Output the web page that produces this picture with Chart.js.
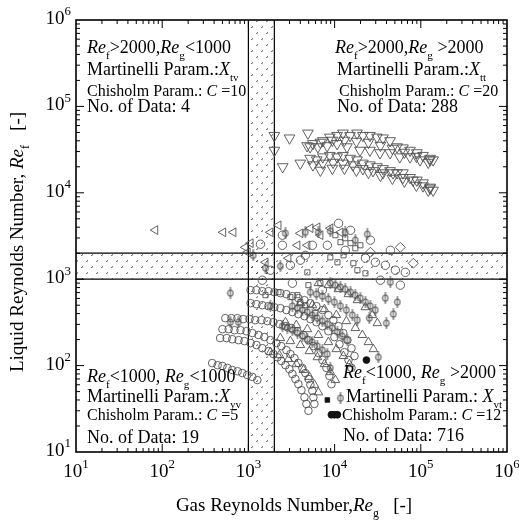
<!DOCTYPE html>
<html>
<head>
<meta charset="utf-8">
<script src="https://cdn.jsdelivr.net/npm/chart.js@4.4.0/dist/chart.umd.min.js"></script>
<style>
  body { margin: 0; background: #fff; }
  #wrap { width: 519px; height: 524px; position: relative; }
</style>
</head>
<body>
<div id="wrap"><canvas id="chart"></canvas></div>
<script>
// Re_g, Re_f pairs

// open circles, arcs in the lower region
const circleArc1 = [[380,107],[440,101],[500,99],[570,94],[650,89],[750,86],[850,82],[970,78],[1110,74],[1270,68]];
const circleArc2 = [[470,208],[560,208],[650,202],[770,197],[900,192],[1060,182],[1240,173],[1450,159],[1710,147],[1950,136],[2170,125],[2410,113],[2690,101],[2990,91],[3240,80],[3510,70],[3800,61],[4120,52],[4470,43],[4710,36],[4970,30]];
const circleArc3 = [[500,264],[590,264],[690,257],[810,257],[950,250],[1110,238],[1310,226],[1530,214],[1800,197],[2110,182],[2410,168],[2760,151],[3070,136],[3420,122],[3800,107],[4230,94],[4580,82],[4970,70],[5240,60],[5520,51],[5670,43],[5830,36]];
const circleArc4 = [[540,354],[635,354],[745,354],[870,345],[1030,345],[1200,336],[1420,336],[1660,327],[1950,318],[2290,302],[2690,286],[3160,272],[3700,250],[4350,226],[4970,197],[5670,168],[6490,140],[7220,116],[8040,94],[8700,76],[9180,61]];
const circleArc5 = [[1060,747],[1240,747],[1450,727],[1710,727],[2000,707],[2350,689],[2760,671],[3240,636],[3800,603],[4470,572],[5240,528],[6150,488],[7220,439],[8470,384],[9680,336],[11100,286],[12600,238],[14100,197],[15700,159],[17000,129]];
const circleArc6 = [[1060,528],[1240,514],[1450,500],[1710,488],[2000,474],[2350,462],[2760,439],[3240,416],[3800,394],[4470,373],[5240,345],[6150,318],[7220,286],[8470,250],[9950,214],[11400,177],[13000,143],[14500,116],[15700,94]];
const circleBand = [[1380,2540],[2480,2470],[4010,1660],[5520,2470],[8240,2470],[11100,4430],[2480,3230],[1800,1270],[3070,1450],[4580,1890],[13300,2160],[22800,1750],[29700,1570],[38800,1450],[50700,1270],[66200,1200],[3240,899],[7220,747],[1450,973],[15300,3680],[26000,2830],[44400,2160],[34000,973],[57900,853]];

// open down-triangles, upper right
const downUpper1 = [[2000,46000],[3000,43000],[4900,49000],[4800,35000],[5600,37000],[7300,40000],[8800,44000],[10700,46000],[12500,49000],[15100,46000],[18200,49000],[21300,46000],[25700,46000],[31000,44000],[36400,43000],[44000,40000],[53000,34000],[62000,33000],[75000,31000],[90000,29000],[106000,27000],[128000,25000],[139000,24000]];
const downUpper2 = [[5200,34000],[6400,34000],[8200,35000],[10700,37000],[13900,34000],[19700,31000],[25700,31000],[33600,29000],[44000,29000],[57000,26000],[75000,26000],[98000,24000],[128000,24000]];
const downUpper3 = [[6840,38400],[9420,40500],[13000,40500],[17900,39400],[24700,38400],[34000,35400],[46800,32700],[64500,29400],[88900,26400],[122000,22500]];
const downLower1 = [[2000,31000],[2500,20000],[4000,22000],[5200,25000],[6200,24000],[7300,26000],[8800,27000],[10700,26000],[12500,27000],[15100,25000],[18200,24000],[21300,22000],[25700,21000],[31000,20000],[36400,19000],[44000,18000],[53000,17000],[62000,17000],[75000,15000],[90000,14000],[106000,13000],[128000,11600],[139000,10700]];
const downLower2 = [[5600,21000],[7300,22000],[9600,22500],[12500,22000],[16300,21000],[21300,19000],[27900,18000],[36400,17000],[47600,17000],[62000,15000],[81000,14000],[106000,12000],[128000,11300]];
const downLower3 = [[6840,18200],[9420,19200],[13000,19200],[17900,18200],[24700,17200],[34000,15900],[46800,14700],[64500,13600],[88900,12200],[122000,10700]];

// open left-triangles
const leftTri = [[83,3700],[510,3490],[670,3490],[920,2340],[980,2050],[1060,2610],[1800,3490],[2230,4210],[4010,3400],[5240,3890],[6310,3990],[6840,3230],[3700,2470],[4830,2470],[8930,3890],[11700,3490],[1580,1570],[2910,1750]];

// open up-triangles
const upArc1 = [[6490,899],[8470,853],[11070,766],[14450,671],[18370,572],[22760,474],[27430,384],[31340,310]];
const upArc2 = [[4010,528],[5520,500],[7620,450],[10490,384],[13700,327],[17420,272],[21000,226],[24660,187],[28180,155]];
const upArc3 = [[2690,318],[3600,294],[4830,264],[6490,226],[8470,187],[10490,155],[12650,129],[14850,104]];
const upArc4 = [[2350,208],[3070,192],[4010,173],[5100,147],[6310,125],[7620,104],[8930,84],[10220,68]];
const upArc5 = [[1800,143],[2290,132],[2910,119],[3600,104],[4345,89],[5100,74],[5830,60],[6490,49]];

// open squares
const squares = [[10200,3230],[13300,2980],[11700,2680],[15300,2610],[17400,2280],[19900,2470],[12700,1890],[16500,1530],[18400,1270],[22800,1170],[8930,1790],[10800,1570],[4830,1200],[4970,853],[6840,899],[2230,707],[3070,620],[4010,542],[4580,500],[5980,405],[3700,653],[1580,653]];

// circle with vertical bar
const phiArc1 = [[3240,488],[3700,462],[4230,439],[4830,416],[5520,384],[6310,354],[7220,327],[8240,302],[9420,272],[10770,244],[12300,219],[14070,197]];
const phiArc2 = [[2480,286],[2830,272],[3240,257],[3700,238],[4230,219],[4830,202],[5520,187],[6310,168],[7220,151],[8240,136]];
const phiArc3 = [[5240,707],[6150,671],[7220,636],[8470,588],[9950,542],[11670,488],[13700,439],[16080,384],[18370,336]];
const phiArc4 = [[8930,899],[10200,853],[11700,809],[13300,766],[15300,707],[17400,653],[19900,603],[22800,542],[26000,488],[29700,439]];
const phiLoose = [[38800,603],[53500,542],[48100,394],[39900,310],[32200,125],[44400,923],[8930,94],[11700,42],[618,689],[618,318],[766,318],[1800,488],[2690,3400],[4580,3490],[6490,3490],[8930,3590],[13300,3490],[17400,2830],[24000,3310],[1140,1890],[1580,1340],[2350,1410],[25300,354]];

// open diamonds
const diamonds = [[57900,2340],[82000,1530],[26000,2050]];

// filled marks
const filledSquare = [[8240,40]];
const filledRound = [[23400,116],[9180,27],[9950,27],[10770,27]];

const decades = [1, 2, 3, 4, 5, 6];

const SERIF = '"Liberation Serif", "Times New Roman", serif';
const INK = '#505050';

function pts(arr) {
    return arr.map(p => ({ x: p[0], y: p[1] }));
}

// circle crossed by a vertical bar
function makePhi() {
    const c = document.createElement('canvas');
    c.width = 8; c.height = 12;
    const g = c.getContext('2d');
    g.strokeStyle = '#333'; g.lineWidth = 0.9;
    g.beginPath(); g.ellipse(4, 6, 2.8, 3.2, 0, 0, Math.PI * 2); g.stroke();
    g.beginPath(); g.moveTo(4, 0); g.lineTo(4, 12); g.stroke();
    return c;
}

function makeDots() {
    const c = document.createElement('canvas');
    c.width = 10; c.height = 12;
    const g = c.getContext('2d');
    g.strokeStyle = '#222'; g.lineWidth = 0.9;
    g.beginPath();
    g.moveTo(1.5, 4); g.lineTo(2.6, 2.4);
    g.moveTo(6.5, 10); g.lineTo(7.6, 8.4);
    g.stroke();
    return c;
}

function set(data, style, radius, extra) {
    return Object.assign({
        data: pts(data),
        pointStyle: style,
        pointRadius: radius,
        borderColor: INK,
        backgroundColor: 'rgba(0,0,0,0)',
        pointBorderWidth: 0.9,
        showLine: false
    }, extra || {});
}

// draws text pieces: [text, kind] with kind '', 'i', 'sub', 'sup'
function rich(ctx, x, y, parts, size, draw) {
    let cx = x;
    parts.forEach(p => {
        const t = p[0], k = p[1] || '';
        let s = size, dy = 0, st = '';
        if (k === 'sub') { s = size * 0.62; dy = size * 0.32; }
        if (k === 'sup') { s = size * 0.68; dy = -size * 0.45; }
        if (k === 'i') st = 'italic ';
        ctx.font = st + s + 'px ' + SERIF;
        if (draw !== false) ctx.fillText(t, cx, y + dy);
        cx += ctx.measureText(t).width;
    });
    return cx - x;
}

const notes = [
    // top left
    [87, 53, 18, [['Re','i'],['f','sub'],['>2000,'],['Re','i'],['g','sub'],['<1000']]],
    [87, 75, 18, [['Martinelli Param.:'],['X','i'],['tv','sub']]],
    [87, 96, 16, [['Chisholm Param.: '],['C','i'],[' =10']]],
    [87, 112, 18, [['No. of Data: 4']]],
    // top right
    [335, 53, 18, [['Re','i'],['f','sub'],['>2000,'],['Re','i'],['g','sub'],[' >2000']]],
    [337, 75, 18, [['Martinelli Param.:'],['X','i'],['tt','sub']]],
    [339, 96, 16, [['Chisholm Param.: '],['C','i'],[' =20']]],
    [337, 112, 18, [['No. of Data: 288']]],
    // bottom left
    [87, 382, 18, [['Re','i'],['f','sub'],['<1000, '],['Re','i'],['g','sub'],['<1000']]],
    [87, 402, 18, [['Martinelli Param.:'],['X','i'],['yv','sub']]],
    [87, 420, 16, [['Chisholm Param.: '],['C','i'],[' =5']]],
    [87, 443, 18, [['No. of Data: 19']]],
    // bottom right
    [343, 378, 18, [['Re','i'],['f','sub'],['<1000, '],['Re','i'],['g','sub'],[' >2000']]],
    [346, 402, 18, [['Martinelli Param.: '],['X','i'],['vt','sub']]],
    [342, 420, 16, [['Chisholm Param.: '],['C','i'],[' =12']]],
    [343, 441, 18, [['No. of Data: 716']]]
];

const decor = {
    id: 'decor',
    beforeDatasetsDraw(chart) {
        const ctx = chart.ctx, a = chart.chartArea;
        const xs = chart.scales.x, ys = chart.scales.y;
        const x1 = xs.getPixelForValue(1000), x2 = xs.getPixelForValue(2000);
        const y1 = ys.getPixelForValue(2000), y2 = ys.getPixelForValue(1000);
        ctx.save();
        ctx.fillStyle = ctx.createPattern(makeDots(), 'repeat');
        ctx.fillRect(x1, a.top, x2 - x1, a.bottom - a.top);
        ctx.fillRect(a.left, y1, a.right - a.left, y2 - y1);
        ctx.strokeStyle = '#000'; ctx.lineWidth = 1.2;
        ctx.beginPath();
        [x1, x2].forEach(x => { ctx.moveTo(x, a.top); ctx.lineTo(x, a.bottom); });
        [y1, y2].forEach(y => { ctx.moveTo(a.left, y); ctx.lineTo(a.right, y); });
        ctx.stroke();
        ctx.restore();
    },
    afterDatasetsDraw(chart) {
        const ctx = chart.ctx, a = chart.chartArea;
        const xs = chart.scales.x, ys = chart.scales.y;
        ctx.save();
        ctx.strokeStyle = '#000';
        ctx.lineWidth = 1.6;
        ctx.strokeRect(a.left, a.top, a.right - a.left, a.bottom - a.top);

        // inward ticks on all four sides
        ctx.lineWidth = 1;
        ctx.beginPath();
        for (let d = 1; d < 6; d++) {
            for (let m = 1; m <= 9; m++) {
                const v = m * Math.pow(10, d);
                const len = m === 1 ? 8 : 4;
                if (!(m === 1 && d === 1)) {
                    const px = xs.getPixelForValue(v);
                    ctx.moveTo(px, a.bottom); ctx.lineTo(px, a.bottom - len);
                    ctx.moveTo(px, a.top); ctx.lineTo(px, a.top + len);
                    const py = ys.getPixelForValue(v);
                    ctx.moveTo(a.left, py); ctx.lineTo(a.left + len, py);
                    ctx.moveTo(a.right, py); ctx.lineTo(a.right - len, py);
                }
            }
        }
        ctx.stroke();

        ctx.fillStyle = '#000';
        ctx.textBaseline = 'alphabetic';
        decades.forEach(d => {
            const parts = [['10'], [String(d), 'sup']];
            const w = rich(ctx, 0, 0, parts, 19, false);
            const px = xs.getPixelForValue(Math.pow(10, d));
            rich(ctx, px - w / 2, a.bottom + 25, parts, 19);
            const py = ys.getPixelForValue(Math.pow(10, d));
            rich(ctx, a.left - 5 - w, py + 4, parts, 19);
        });

        // axis titles
        const xt = [['Gas Reynolds Number,'], ['Re', 'i'], ['g', 'sub'], ['   [-]']];
        const xw = rich(ctx, 0, 0, xt, 19, false);
        rich(ctx, 294 - xw / 2, 511, xt, 19);
        const yt = [['Liquid Reynolds Number, '], ['Re', 'i'], ['f', 'sub'], ['   [-]']];
        const yw = rich(ctx, 0, 0, yt, 19, false);
        ctx.save();
        ctx.translate(23, 242);
        ctx.rotate(-Math.PI / 2);
        rich(ctx, -yw / 2, 0, yt, 19);
        ctx.restore();

        notes.forEach(n => rich(ctx, n[0], n[1], n[3], n[2]));
        ctx.restore();
    }
};

const phi = makePhi();
const down = { pointRotation: 180 };
const left = { pointRotation: 270 };

new Chart(document.getElementById('chart'), {
    type: 'scatter',
    data: {
        datasets: [
            set(circleArc1, 'circle', 3.8),
            set(circleArc2, 'circle', 3.8),
            set(circleArc3, 'circle', 3.8),
            set(circleArc4, 'circle', 3.8),
            set(circleArc5, 'circle', 3.8),
            set(circleArc6, 'circle', 3.8),
            set(circleBand, 'circle', 4.2),
            set(downUpper1, 'triangle', 6.2, down),
            set(downUpper2, 'triangle', 6.2, down),
            set(downUpper3, 'triangle', 6.2, down),
            set(downLower1, 'triangle', 6.2, down),
            set(downLower2, 'triangle', 6.2, down),
            set(downLower3, 'triangle', 6.2, down),
            set(leftTri, 'triangle', 5, left),
            set(upArc1, 'triangle', 5),
            set(upArc2, 'triangle', 5),
            set(upArc3, 'triangle', 5),
            set(upArc4, 'triangle', 5),
            set(upArc5, 'triangle', 5),
            set(squares, 'rect', 3.6),
            set(phiArc1, phi, 4),
            set(phiArc2, phi, 4),
            set(phiArc3, phi, 4),
            set(phiArc4, phi, 4),
            set(phiLoose, phi, 4),
            set(diamonds, 'rectRot', 5),
            set(filledSquare, 'rect', 3.2, { backgroundColor: '#111', borderColor: '#111' }),
            set(filledRound, 'circle', 3.4, { backgroundColor: '#111', borderColor: '#111' })
        ]
    },
    options: {
        responsive: true,
        maintainAspectRatio: false,
        animation: false,
        layout: { padding: { left: 76, top: 20, right: 12, bottom: 72 } },
        plugins: { legend: { display: false }, tooltip: { enabled: false } },
        scales: {
            x: { type: 'logarithmic', min: 10, max: 1e6, display: false },
            y: { type: 'logarithmic', min: 10, max: 1e6, display: false }
        }
    },
    plugins: [decor]
});
</script>
</body>
</html>
